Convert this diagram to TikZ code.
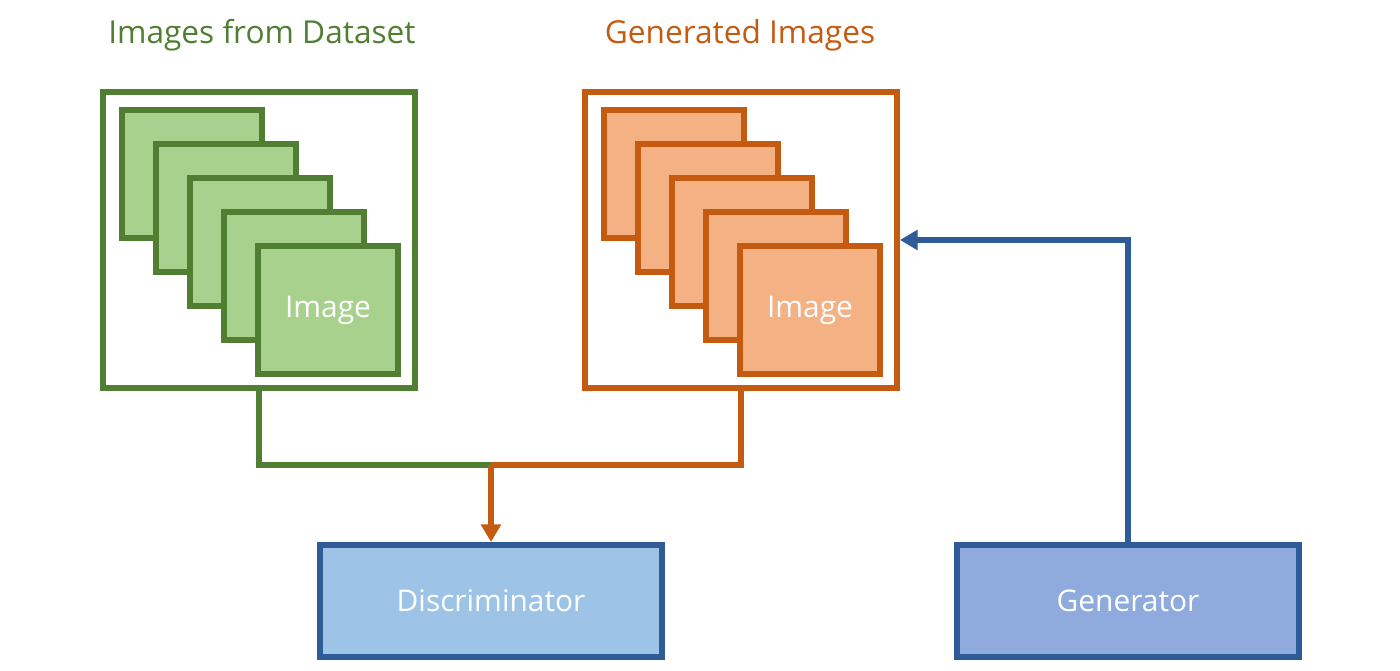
\documentclass[tikz,border=0pt]{standalone}
\usepackage{fontspec}
\setmainfont{Open Sans}
\usetikzlibrary{arrows.meta}

\definecolor{grline}{HTML}{507E32}
\definecolor{grfill}{HTML}{A9D18E}
\definecolor{orline}{HTML}{C55A11}
\definecolor{orfill}{HTML}{F4B183}
\definecolor{blline}{HTML}{2F5B97}
\definecolor{discfill}{HTML}{9DC3E6}
\definecolor{genfill}{HTML}{8FAADC}

\tikzset{
  setbox/.style={draw=#1, line width=3.4pt, fill=white, minimum width=6.24cm, minimum height=5.92cm, inner sep=0pt},
  imgbox/.style={draw=#1, line width=3.4pt, minimum width=2.8cm, minimum height=2.56cm, inner sep=0pt, text=white, font=\fontsize{17}{20}\selectfont},
  netbox/.style={draw=blline, fill=#1, line width=3.4pt, minimum width=6.84cm, minimum height=2.24cm, inner sep=0pt, text=white, font=\fontsize{17}{20}\selectfont},
  title/.style={font=\fontsize{18}{22}\selectfont},
  link/.style={line width=3pt},
}

\begin{document}
\begin{tikzpicture}[x=0.02cm,y=-0.02cm]
  \useasboundingbox (0,0) rectangle (1400,671);

  % titles
  \node[title, text=grline] (gtitle) at (262,35) {Images from Dataset};
  \node[title, text=orline] (otitle) at (740,35) {Generated Images};

  % image sets
  \node[setbox=grline] (gset) at (259,240) {};
  \node[setbox=orline] (oset) at (741,240) {};
  \foreach \i in {0,...,3} {
    \node[imgbox=grline, fill=grfill] (g\i) at (192+34*\i,174+34*\i) {};
    \node[imgbox=orline, fill=orfill] (o\i) at (674+34*\i,174+34*\i) {};
  }
  \node[imgbox=grline, fill=grfill] (g4) at (328,310) {Image};
  \node[imgbox=orline, fill=orfill] (o4) at (810,310) {Image};

  % networks
  \node[netbox=discfill] (disc) at (491,601) {Discriminator};
  \node[netbox=genfill] (gen) at (1128,601) {Generator};

  % connectors
  \coordinate (join) at (491,465);
  \draw[link, draw=grline] (gset.south) |- (join);
  \draw[link, draw=orline] (oset.south) |- (join);
  \draw[link, draw=orline, -{Triangle[length=10pt,width=11pt]}] (join) -- (disc.north);
  \draw[link, draw=blline, -{Triangle[length=10pt,width=11pt]}] (gen.north) |- (oset.east);
\end{tikzpicture}
\end{document}
